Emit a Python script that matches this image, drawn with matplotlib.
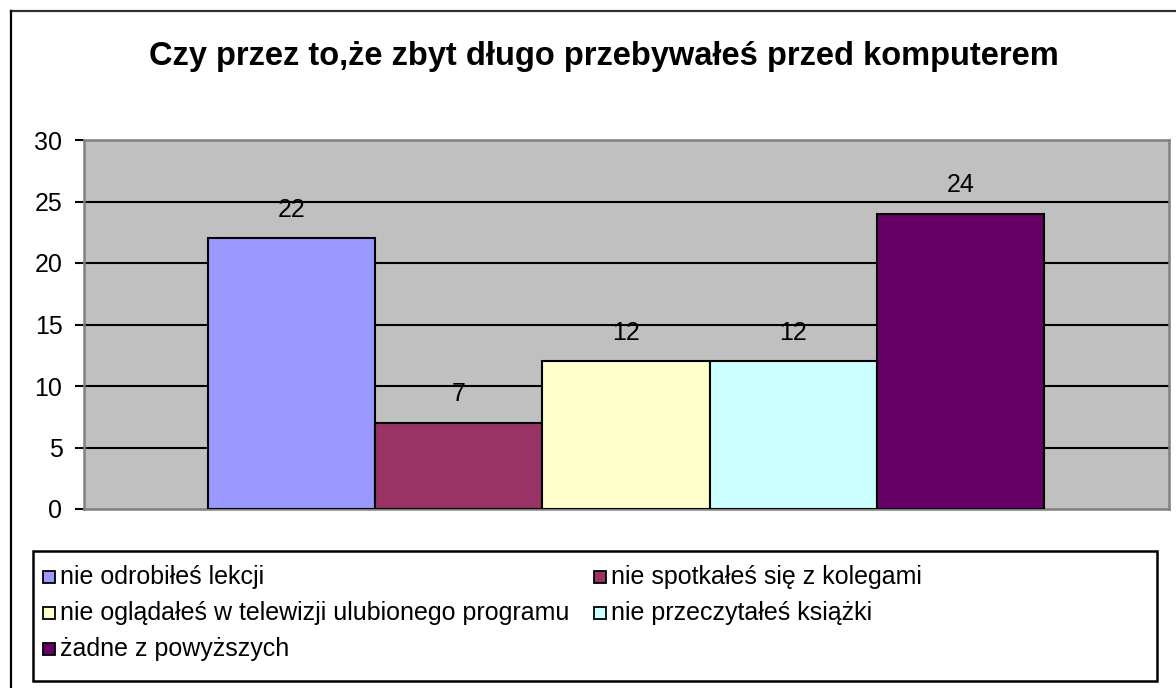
import matplotlib.pyplot as plt
from matplotlib.patches import Rectangle
from matplotlib.lines import Line2D

plt.rcParams['font.family'] = ['Liberation Sans', 'DejaVu Sans']

# data
series = ["nie odrobiłeś lekcji",
          "nie spotkałeś się z kolegami",
          "nie oglądałeś w telewizji ulubionego programu",
          "nie przeczytałeś książki",
          "żadne z powyższych"]
values = [22, 7, 12, 12, 24]
colors = ["#9999FF", "#993366", "#FFFFCC", "#CCFFFF", "#660066"]
yticks = [0, 5, 10, 15, 20, 25, 30]
title = "Czy przez to,że zbyt długo przebywałeś przed komputerem"

W, H = 1176, 688
fig = plt.figure(figsize=(W / 100, H / 100), dpi=100)
fig.patch.set_facecolor("white")

def fx(px):
    return px / W

def fy(py):
    return 1 - py / H

# outer chart border (top and left visible)
fig.add_artist(Line2D([fx(11), 1.0], [fy(11), fy(11)], color="#303030", lw=1.6))
fig.add_artist(Line2D([fx(11), fx(11)], [fy(11), 0.0], color="black", lw=1.6))

ax = fig.add_axes([fx(84), fy(509), fx(1169) - fx(84), fy(140) - fy(509)])
ax.set_facecolor("#C0C0C0")

x = list(range(len(values)))
bars = ax.bar(x, values, width=1.0, color=colors, edgecolor="black", linewidth=1.5, zorder=3)
ax.set_xlim(-0.5 - 124 / 167.2, len(values) - 0.5 + 125 / 167.2)
ax.set_ylim(0, 30)
ax.set_yticks(yticks)
ax.set_xticks([])

for v in yticks[1:-1]:
    ax.axhline(v, color="black", lw=1.5, zorder=1)

for s in ax.spines.values():
    s.set_color("#808080")
    s.set_linewidth(1.8)

ax.tick_params(axis="y", direction="out", length=6.5, width=1.5, color="black",
               labelsize=18, pad=9)

for b, v in zip(bars, values):
    ax.annotate(str(v), (b.get_x() + b.get_width() / 2, v), xytext=(0, 12),
                textcoords="offset points", ha="center", va="bottom", fontsize=18)

fig.text(fx(604), fy(57), title, ha="center", va="center", fontsize=23.5, fontweight="bold")

# legend box
fig.add_artist(Rectangle((fx(33), fy(681)), fx(1157) - fx(33), fy(551) - fy(681),
                         facecolor="white", edgecolor="black", lw=1.8,
                         transform=fig.transFigure))
col_x = [43, 594]
row_y = [577, 613, 649]
for k in range(len(series)):
    cx = col_x[k % 2]
    cy = row_y[k // 2]
    fig.add_artist(Rectangle((fx(cx), fy(cy + 6)), fx(12), fy(cy - 6) - fy(cy + 6),
                             facecolor=colors[k], edgecolor="black", lw=1.3,
                             transform=fig.transFigure))
    fig.text(fx(cx + 17), fy(cy), series[k], ha="left", va="center", fontsize=18)

fig.savefig("out.png", dpi=100)
